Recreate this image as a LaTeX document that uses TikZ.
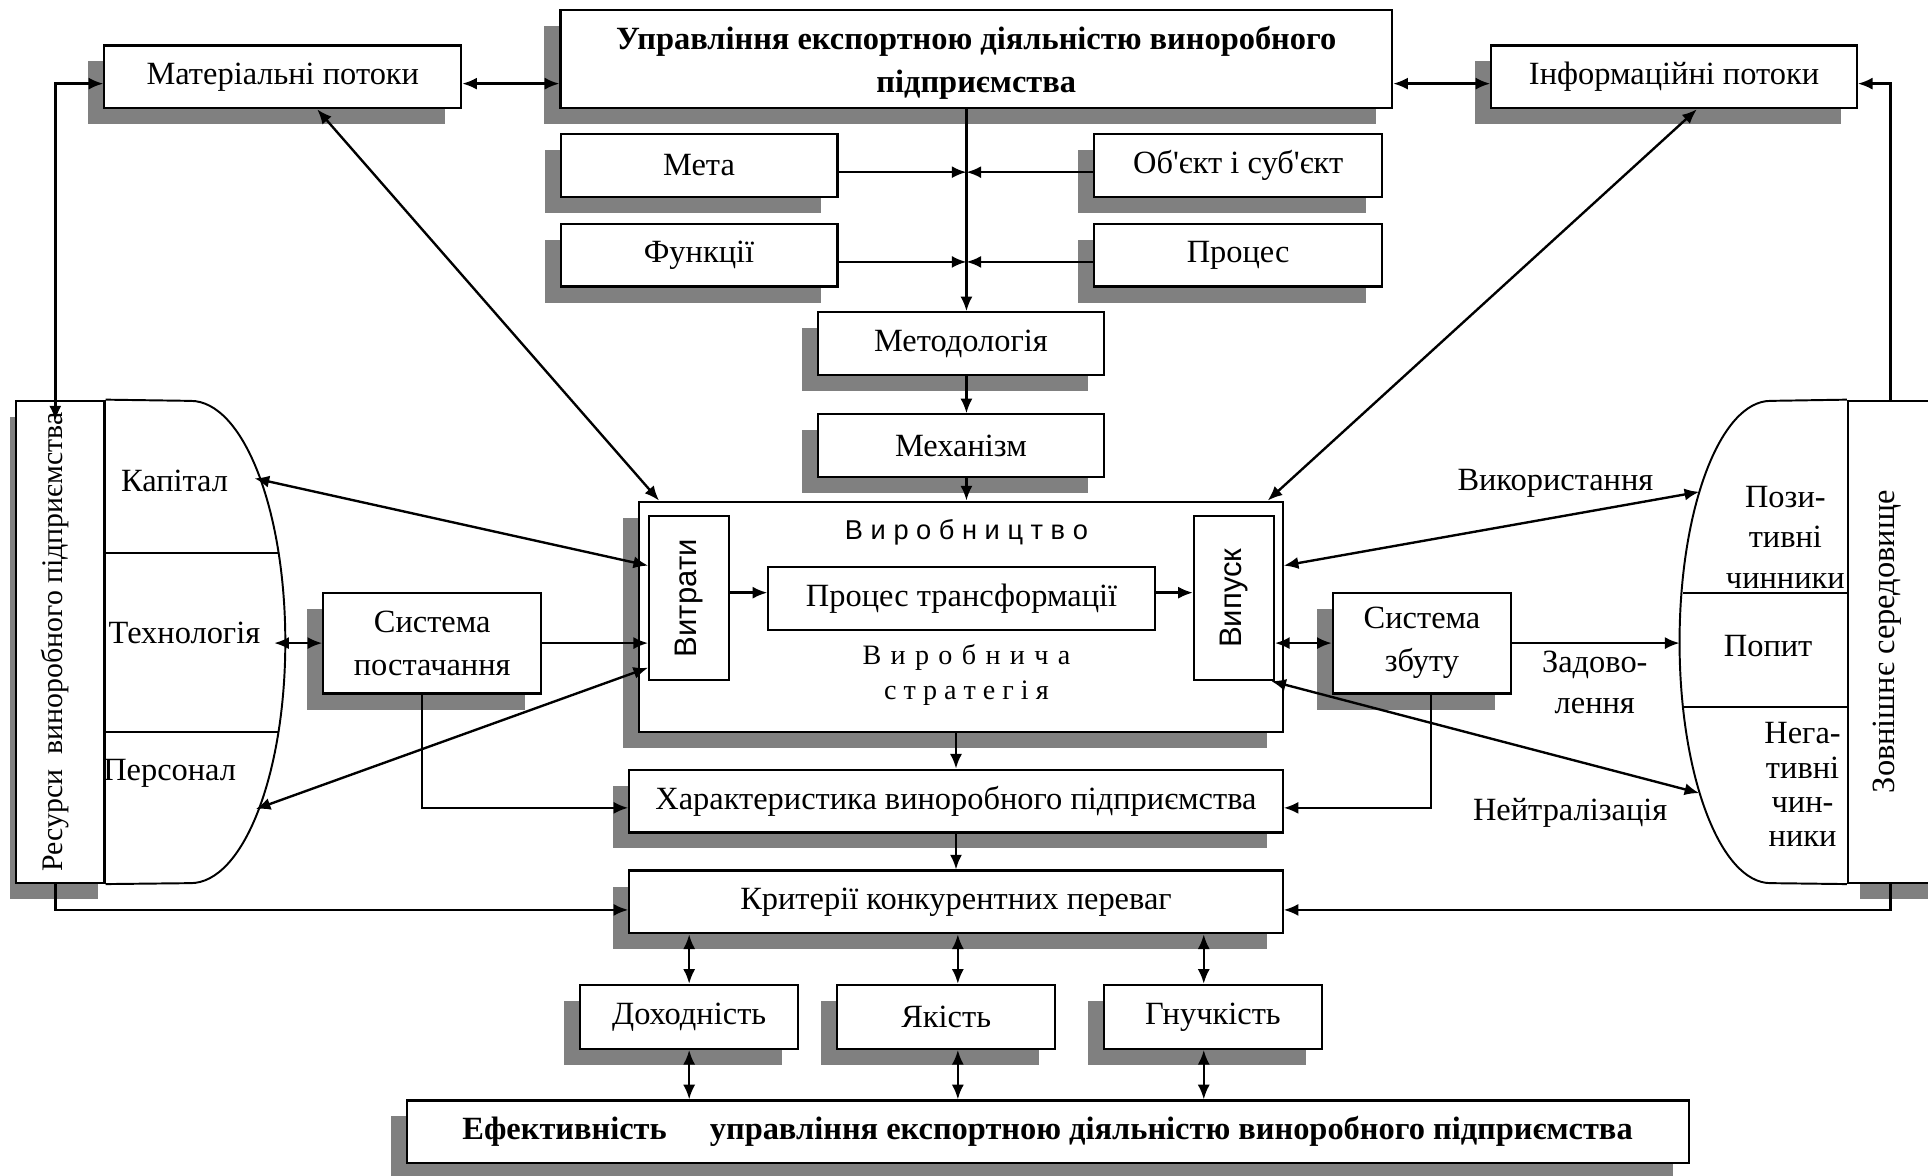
\documentclass[tikz,border=0pt]{standalone}
\usepackage{fontspec}
\setmainfont{Liberation Serif}
\newfontfamily\sansf{Liberation Sans}
\usepackage{graphicx}
\usetikzlibrary{arrows.meta,shadows,calc}
\definecolor{shgray}{RGB}{128,128,128}
\newcommand{\msz}{\fontsize{7.5}{9.4}\selectfont}
\newcommand{\apo}{{\addfontfeature{Ligatures=TeXOff}'}}
\begin{document}
\begin{tikzpicture}[x=0.01cm,y=-0.01cm,
  bx/.style={draw,line width=0.5pt,fill=white,inner sep=1pt,align=center,font=\msz},
  shd/.style={drop shadow={shadow xshift=-0.13cm,shadow yshift=-0.13cm,fill=shgray,opacity=1}},
  lbl/.style={font=\msz,inner sep=0pt,align=center},
  arr/.style={line width=0.55pt,-{Latex[length=3.4pt,width=2.8pt]}},
  darr/.style={line width=0.55pt,{Latex[length=3.4pt,width=2.8pt]}-{Latex[length=3.4pt,width=2.8pt]}},
  thinln/.style={line width=0.45pt}]
\useasboundingbox (0,0) rectangle (1568,956);
\fill[white] (0,0) rectangle (1568,956);

% ---- boxes ----
\node[bx,shd,minimum width=2.90cm,minimum height=0.51cm] (mat) at (230,62.5) {\raisebox{-0.5pt}{Матеріальні потоки}};
\node[bx,shd,minimum width=6.76cm,minimum height=0.80cm] (top) at (794,48) {};
\node[lbl,font=\fontsize{7.5}{10}\selectfont\bfseries] (topt) at (794,51) {Управління експортною діяльністю виноробного\\підприємства};
\node[bx,shd,minimum width=2.97cm,minimum height=0.51cm] (info) at (1361.5,62.5) {\raisebox{-0.5pt}{Інформаційні потоки}};
\node[bx,shd,minimum width=2.25cm,minimum height=0.51cm] (meta) at (568.5,134.5) {Мета};
\node[bx,shd,minimum width=2.34cm,minimum height=0.51cm] (obj) at (1007,134.5) {Об\apo єкт і суб\apo єкт};
\node[bx,shd,minimum width=2.25cm,minimum height=0.51cm] (func) at (568.5,207.5) {Функції};
\node[bx,shd,minimum width=2.34cm,minimum height=0.51cm] (proc) at (1007,207.5) {Процес};
\node[bx,shd,minimum width=2.33cm,minimum height=0.51cm] (metod) at (781.5,279.5) {Методологія};
\node[bx,shd,minimum width=2.33cm,minimum height=0.51cm] (mech) at (781.5,362.5) {Механізм};
\node[bx,shd,minimum width=5.23cm,minimum height=1.87cm] (prod) at (781.5,501.5) {};
\node[bx,minimum width=0.65cm,minimum height=1.33cm] (vytr) at (560.5,486.5) {\rotatebox{90}{\sansf\fontsize{7.2}{8}\selectfont Витрати}};
\node[bx,minimum width=3.14cm,minimum height=0.51cm] (trans) at (782,486.5) {Процес трансформації};
\node[bx,minimum width=0.65cm,minimum height=1.33cm] (vyp) at (1003.5,486.5) {\rotatebox{90}{\sansf\fontsize{7.2}{8}\selectfont Випуск}};
\node[lbl,font=\sansf\fontsize{6.3}{7}\selectfont] (prodt) at (786,433) {В и р о б н и ц т в о};
\node[lbl,font=\fontsize{6.5}{8}\selectfont] (strat) at (786,549) {В\,\,и\,\,р\,\,о\,\,б\,\,н\,\,и\,\,ч\,\,а\\с т р а т е г і я};
\node[bx,shd,minimum width=1.77cm,minimum height=0.82cm,font=\fontsize{7.5}{10}\selectfont] (sup) at (351.5,523) {Система\\постачання};
\node[bx,shd,minimum width=1.45cm,minimum height=0.82cm,font=\fontsize{7.5}{10}\selectfont] (sales) at (1156.5,523) {Система\\збуту};
\node[bx,shd,minimum width=5.31cm,minimum height=0.51cm] (char) at (777.5,651.5) {Характеристика виноробного підприємства};
\node[bx,shd,minimum width=5.31cm,minimum height=0.51cm] (crit) at (777.5,733.5) {Критерії конкурентних переваг};
\node[bx,shd,minimum width=1.77cm,minimum height=0.52cm] (doh) at (560.5,827) {Доходність};
\node[bx,shd,minimum width=1.77cm,minimum height=0.52cm] (yak) at (769.5,827) {Якість};
\node[bx,shd,minimum width=1.77cm,minimum height=0.52cm] (gn) at (986.5,827) {Гнучкість};
\node[bx,shd,minimum width=10.42cm,minimum height=0.51cm,font=\msz\bfseries] (eff) at (852,920.5) {Ефективність\hspace{0.35cm}управління експортною діяльністю виноробного підприємства};

% ---- resources (left) ----
\node[bx,drop shadow={shadow xshift=-0.05cm,shadow yshift=-0.13cm,fill=shgray,opacity=1},minimum width=0.72cm,minimum height=3.92cm] (res) at (49,522) {};
\draw[thinln] (res.north east) -- (155,326) arc[start angle=90,end angle=-90,x radius=0.77cm,y radius=1.96cm] -- (res.south east);
\draw[thinln] (85,450) -- (226,450);
\draw[thinln] (85,595) -- (226,595);
\node[lbl,font=\fontsize{6.9}{8}\selectfont] (rest) at (45,522) {\rotatebox{90}{Ресурси\ \ виноробного підприємства}};
\node[lbl] (kapt) at (142,391) {Капітал};
\node[lbl] (techt) at (150,515) {Технологія};
\node[lbl] (perst) at (138,629) {Персонал};

% ---- environment (right) ----
\node[bx,drop shadow={shadow xshift=0.10cm,shadow yshift=-0.13cm,fill=shgray,opacity=1},minimum width=0.69cm,minimum height=3.92cm] (env) at (1537.5,522) {};
\draw[thinln] (env.north west) -- (1440,326) arc[start angle=90,end angle=270,x radius=0.74cm,y radius=1.96cm] -- (env.south west);
\draw[thinln] (1369,482) -- (1503,482);
\draw[thinln] (1369,575) -- (1503,575);
\node[lbl] (envt) at (1535,522) {\rotatebox{90}{Зовнішнє середовище}};
\node[lbl] (pozt) at (1452,437) {Пози-\\тивні\\чинники};
\node[lbl] (popt) at (1438,525) {Попит};
\node[lbl,font=\fontsize{7.5}{7.9}\selectfont] (negt) at (1466,638) {Нега-\\тивні\\чин-\\ники};

% ---- connectors ----
\coordinate (mlw) at ($(mat.west)+(0,5.5)$);
\coordinate (resin) at ($(res.north)+(-4,17)$);
\draw[darr] (mlw) -| (resin);
\coordinate (mle) at ($(mat.east)+(0,5.5)$);
\draw[darr] (mle) -- (mle -| top.west);
\coordinate (ilw) at ($(info.west)+(0,5.5)$);
\draw[darr] (ilw -| top.east) -- (ilw);
\coordinate (ile) at ($(info.east)+(0,5.5)$);
\draw[arr] (env.north) |- (ile);

\draw[darr] ($(mat.south)+(28,0)$) -- ($(prod.north west)+(17,0)$);
\draw[darr] ($(info.south)+(18.5,0)$) -- ($(prod.north east)+(-13,0)$);

\coordinate (vx) at ($(metod.north)+(4.5,0)$);
\draw[arr] (top.south -| vx) -- (vx);
\coordinate (r1) at ($(meta.east)+(0,5.5)$);
\draw[arr] (r1) -- (r1 -| vx);
\draw[arr] (r1 -| obj.west) -- (r1 -| vx);
\coordinate (r2) at ($(func.east)+(0,5.5)$);
\draw[arr] (r2) -- (r2 -| vx);
\draw[arr] (r2 -| proc.west) -- (r2 -| vx);
\draw[arr] (metod.south -| vx) -- (mech.north -| vx);
\draw[arr] (mech.south -| vx) -- (prod.north -| vx);

\coordinate (kap) at (207,389);
\draw[darr] (kap) -- ($(vytr.west)+(0,-26.5)$);
\coordinate (tech) at (223,523);
\draw[darr] (tech) -- (sup.west);
\draw[arr] (sup.east) -- (sup.east -| vytr.west);
\coordinate (pers) at (208,658);
\draw[darr] (pers) -- ($(vytr.west)+(0,56.5)$);
\coordinate (cl) at ($(char.west)+(0,5.5)$);
\draw[arr] ($(sup.south)+(-8.5,0)$) |- (cl);

\coordinate (t1) at ($(vytr.east)+(0,-4.5)$);
\draw[arr] (t1) -- (t1 -| trans.west);
\draw[arr] (t1 -| trans.east) -- (t1 -| vyp.west);

\coordinate (vyk) at (1382,400);
\draw[darr] ($(prod.east)+(0,-41.5)$) -- (vyk);
\draw[darr] (vyp.east |- sales.west) -- (sales.west);
\coordinate (pop) at (1366,523);
\draw[arr] (sales.east) -- (pop);
\coordinate (neut) at (1382,645);
\draw[darr] ($(vyp.south east)+(-3,0)$) -- (neut);
\coordinate (cr) at ($(char.east)+(0,5.5)$);
\draw[arr] ($(sales.south)+(7.5,0)$) |- (cr);

\draw[arr] (prod.south -| char.north) -- (char.north);
\draw[arr] (char.south) -- (crit.north);
\coordinate (crl) at ($(crit.west)+(0,6.5)$);
\draw[arr] ($(res.south)+(-4,0)$) |- (crl);
\draw[arr] (env.south) |- (crl -| crit.east);

\coordinate (yx) at ($(yak.north)+(9.5,0)$);
\coordinate (gx) at ($(gn.north)+(-7.5,0)$);
\draw[darr] (crit.south -| doh.north) -- (doh.north);
\draw[darr] (crit.south -| yx) -- (yx);
\draw[darr] (crit.south -| gx) -- (gx);
\draw[darr] (doh.south) -- (eff.north -| doh.south);
\draw[darr] (yak.south -| yx) -- (eff.north -| yx);
\draw[darr] (gn.south -| gx) -- (eff.north -| gx);

\node[lbl] (vykt) at (1265,393) {Використання};
\node[lbl] (zadt) at (1297,555) {Задово-\\лення};
\node[lbl] (neutt) at (1277,661) {Нейтралізація};
\end{tikzpicture}
\end{document}
